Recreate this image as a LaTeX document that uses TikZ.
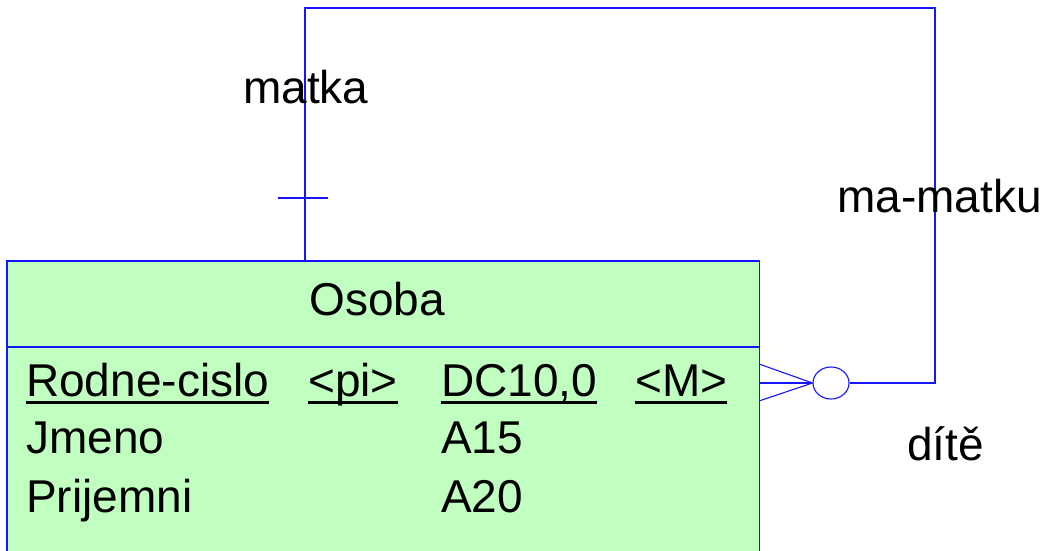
\documentclass[tikz,border=0pt]{standalone}
\usepackage{fontspec}
\setmainfont{Liberation Sans}
\usetikzlibrary{shapes.geometric}
\definecolor{lnblue}{RGB}{20,20,255}
\definecolor{entfill}{RGB}{192,255,192}
\tikzset{
  conn/.style={draw=lnblue, line width=1.1pt},
  txt/.style={inner sep=0pt, anchor=base west, font=\fontsize{46}{52}\selectfont},
  uline/.style={line width=3pt, black},
}
\begin{document}
\begin{tikzpicture}[x=1pt,y=-1pt]
\useasboundingbox (0,0) rectangle (1044,551);
% entity
\node[fill=entfill, minimum width=752pt, minimum height=300pt, anchor=north west, inner sep=0pt] (osoba) at (7,261) {};
\draw[conn] (osoba.north west) rectangle (osoba.south east);
\coordinate (divL) at (7,347);
\coordinate (divR) at (759,347);
\draw[conn] (divL) -- (divR);
\node[txt, anchor=base] (title) at (377,315) {Osoba};
\node[txt] (a1) at (26,396) {Rodne-cislo};
\node[txt] (a2) at (308,396) {<pi>};
\node[txt] (a3) at (441,396) {DC10,0};
\node[txt] (a4) at (635,396) {<M>};
\foreach \n in {a1,a2,a3,a4}{\draw[uline] ([yshift=-6pt]\n.base west) -- ([yshift=-6pt]\n.base east);}
\node[txt] (b1) at (26,453) {Jmeno};
\node[txt] (b3) at (441,453) {A15};
\node[txt] (c1) at (26,512) {Prijemni};
\node[txt] (c3) at (441,512) {A20};
% relationship
\node[ellipse, draw=lnblue, line width=1.1pt, minimum width=36pt, minimum height=32pt, inner sep=0pt] (opt) at (831,383) {};
\coordinate (mTop) at (305,261);
\coordinate (c1p) at (305,8);
\coordinate (c2p) at (935,8);
\coordinate (c3p) at (935,383);
\draw[conn] (mTop) -- (c1p) -- (c2p) -- (c3p) -- (opt.east);
\coordinate (tickL) at (278,198);
\coordinate (tickR) at (328,198);
\draw[conn] (tickL) -- (tickR);
\coordinate (cfA) at (759,364);
\coordinate (cfB) at (759,383);
\coordinate (cfC) at (759,401);
\draw[conn] (cfA) -- (opt.west) -- (cfC);
\draw[conn] (cfB) -- (opt.west);
% labels
\node[txt] (lmatka) at (243,103) {matka};
\node[txt] (lmamatku) at (837,212) {ma-matku};
\node[txt] (ldite) at (907,460) {dítě};
\end{tikzpicture}
\end{document}
